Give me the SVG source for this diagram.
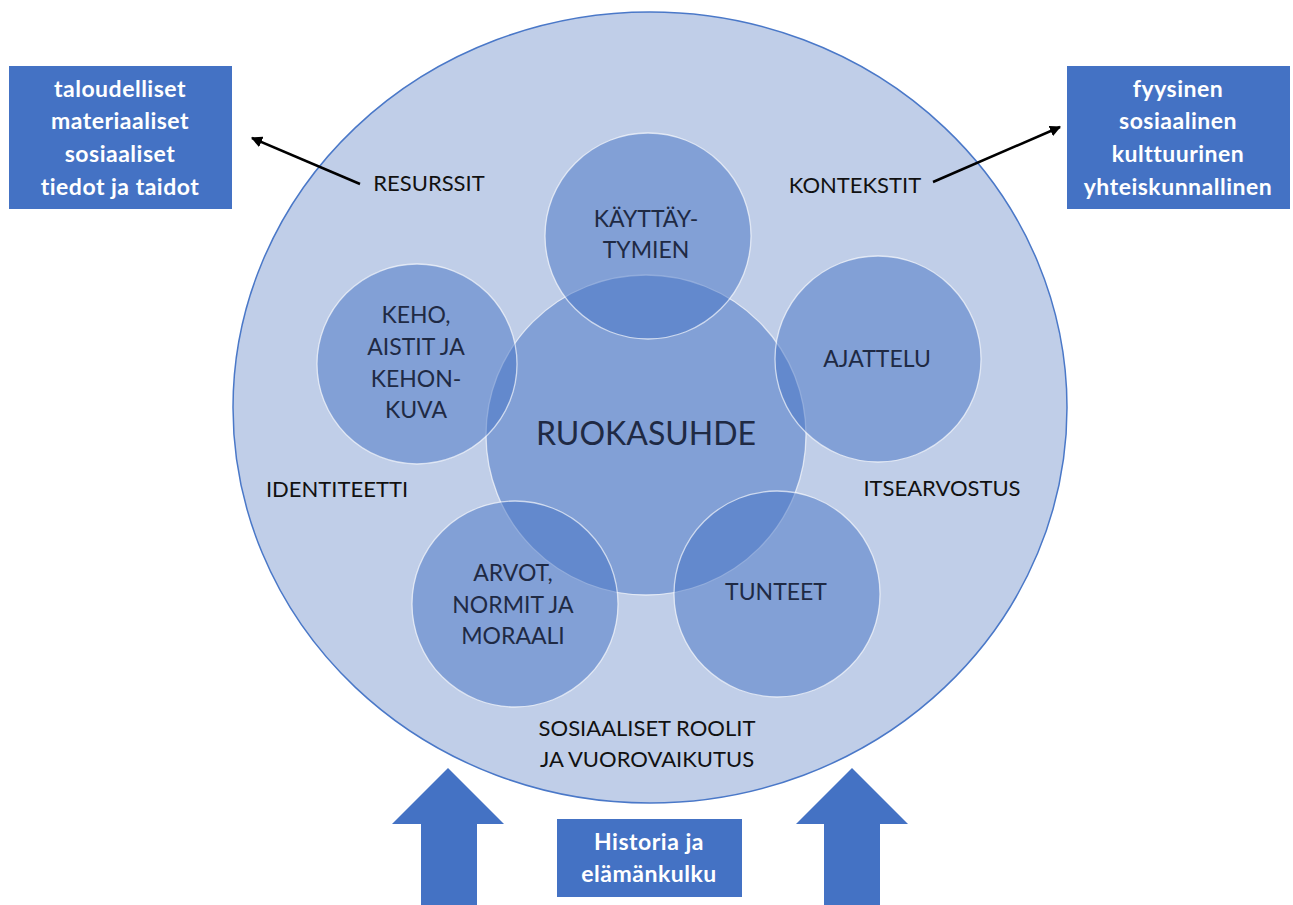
<svg xmlns="http://www.w3.org/2000/svg" width="1293" height="905" viewBox="0 0 1293 905">
  <style>
    .ring { fill: #c0cee8; stroke: #4a78c8; stroke-width: 1.5; }
    .bub { fill: #4472c4; fill-opacity: 0.5; stroke: #ffffff; stroke-opacity: 0.65; stroke-width: 1.3; }
    .box { fill: #4472c4; }
    .lbl { font-family: Lato, "Liberation Sans", sans-serif; font-size: 22px; fill: #111111; text-anchor: middle; }
    .in { font-family: Lato, "Liberation Sans", sans-serif; font-size: 23px; fill: #1f2a44; text-anchor: middle; }
    .core { font-family: Lato, "Liberation Sans", sans-serif; font-size: 32px; fill: #1f2a44; text-anchor: middle; }
    .bt { font-family: Lato, "Liberation Sans", sans-serif; font-size: 23px; font-weight: bold; fill: #ffffff; text-anchor: middle; letter-spacing: 0.5px; }
    .wire { stroke: #000000; stroke-width: 2.5; fill: none; }
    .block { fill: #4472c4; }
  </style>
  <defs>
    <marker id="tip" viewBox="0 0 10 10" refX="9" refY="5" markerWidth="4.5" markerHeight="4.5" orient="auto" markerUnits="strokeWidth">
      <path d="M0,0 L10,5 L0,10 z" fill="#000000"/>
    </marker>
  </defs>

  <!-- outer field -->
  <g id="field">
    <ellipse class="ring" cx="650" cy="407.5" rx="417" ry="395.5"/>
    <text class="lbl" x="429" y="191">RESURSSIT</text>
    <text class="lbl" x="855" y="193">KONTEKSTIT</text>
    <text class="lbl" x="337" y="497">IDENTITEETTI</text>
    <text class="lbl" x="942" y="496">ITSEARVOSTUS</text>
    <text class="lbl" x="647" y="736">SOSIAALISET ROOLIT</text>
    <text class="lbl" x="647" y="767">JA VUOROVAIKUTUS</text>
  </g>

  <!-- centre -->
  <g id="ruokasuhde">
    <circle class="bub" cx="646" cy="435" r="160"/>
  </g>

  <g id="kayttaytymien">
    <circle class="bub" cx="648" cy="236" r="103"/>
  </g>
  <g id="ajattelu">
    <circle class="bub" cx="878" cy="359" r="103"/>
  </g>
  <g id="keho">
    <circle class="bub" cx="417" cy="364" r="100"/>
  </g>
  <g id="arvot">
    <circle class="bub" cx="515" cy="604" r="103"/>
  </g>
  <g id="tunteet">
    <circle class="bub" cx="777" cy="594" r="103"/>
  </g>

  <!-- labels on the bubbles -->
  <g id="bubble-labels">
    <text class="core" x="646" y="445">RUOKASUHDE</text>
    <text class="in" x="646" y="227">KÄYTTÄY-</text>
    <text class="in" x="646" y="258">TYMIEN</text>
    <text class="in" x="877" y="367">AJATTELU</text>
    <text class="in" x="416" y="323">KEHO,</text>
    <text class="in" x="416" y="355">AISTIT JA</text>
    <text class="in" x="416" y="387">KEHON-</text>
    <text class="in" x="416" y="418">KUVA</text>
    <text class="in" x="513" y="581">ARVOT,</text>
    <text class="in" x="513" y="613">NORMIT JA</text>
    <text class="in" x="513" y="644">MORAALI</text>
    <text class="in" x="776" y="600">TUNTEET</text>
  </g>

  <!-- side boxes -->
  <g id="resurssit-box">
    <rect class="box" x="9" y="66" width="223" height="143"/>
    <text class="bt" x="120" y="97">taloudelliset</text>
    <text class="bt" x="120" y="129">materiaaliset</text>
    <text class="bt" x="120" y="162">sosiaaliset</text>
    <text class="bt" x="120" y="195">tiedot ja taidot</text>
  </g>
  <g id="kontekstit-box">
    <rect class="box" x="1067" y="66" width="223" height="143"/>
    <text class="bt" x="1178" y="97">fyysinen</text>
    <text class="bt" x="1178" y="129">sosiaalinen</text>
    <text class="bt" x="1178" y="162">kulttuurinen</text>
    <text class="bt" x="1178" y="195">yhteiskunnallinen</text>
  </g>
  <g id="historia-box">
    <rect class="box" x="557" y="819" width="185" height="78"/>
    <text class="bt" x="649" y="850">Historia ja</text>
    <text class="bt" x="649" y="882">elämänkulku</text>
  </g>

  <!-- connectors -->
  <g id="connectors">
    <line class="wire" x1="360" y1="184" x2="252" y2="138" marker-end="url(#tip)"/>
    <line class="wire" x1="933" y1="182" x2="1060" y2="127" marker-end="url(#tip)"/>
    <path class="block" d="M448,768 L504,824 L477,824 L477,905 L421,905 L421,824 L392,824 Z"/>
    <path class="block" d="M852,768 L908,824 L880,824 L880,905 L824,905 L824,824 L796,824 Z"/>
  </g>
</svg>
